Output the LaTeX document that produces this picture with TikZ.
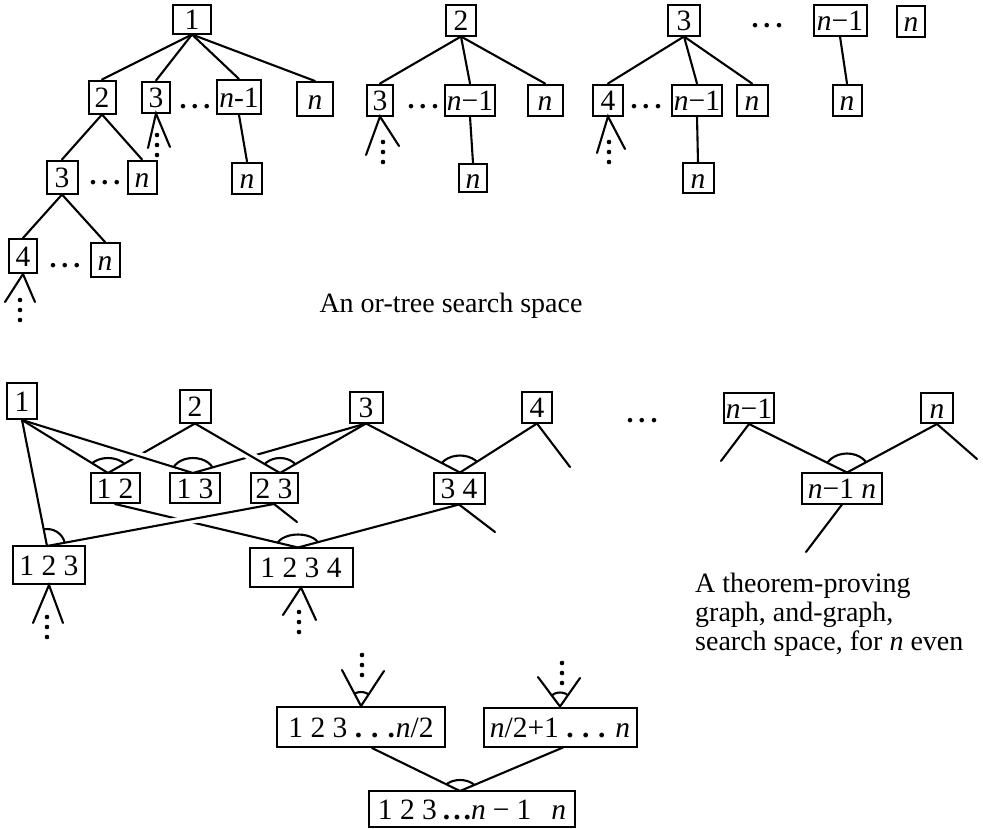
\documentclass[tikz,border=0pt]{standalone}
\usepackage{fontspec}
\setmainfont{Liberation Serif}
\newcommand\andarc[5]{\begin{scope}\clip (#1) -- (#2) -- (#3) -- cycle; \draw[edge] (#1) ellipse [x radius=#4, y radius=#5];\end{scope}}
\newcommand\vdts[3]{\foreach \k in {0,1,2}{\fill (#1,{#2+#3*\k}) circle[radius=2.3];}}
\newcommand\mydots[1]{{\bfseries.\kern#1.\kern#1.}}
\begin{document}
\begin{tikzpicture}[x=1pt,y=-1pt,
  font=\fontsize{28}{29}\selectfont,
  edge/.style={line width=2.1pt, line cap=round},
  bx/.style={draw, line width=2pt, inner xsep=2pt, inner ysep=0pt, minimum height=31pt, text height=20pt, text depth=0pt, minimum width=#1, font=\fontsize{29.5}{31}\selectfont},
  bx/.default=30pt,
  txt/.style={inner sep=0pt, anchor=base},
  halo/.style={draw=white, line width=9pt},
]
\useasboundingbox (0,0) rectangle (983,828);

% ---------------- or-tree ----------------
\node[bx=38pt, minimum height=29pt] (t1) at (192,19) {1};
\node[bx] (t2) at (461,20) {2};
\node[bx=32pt] (t3) at (684,20) {3};
\node[txt] (tdots) at (767,27) {\mydots{5pt}};
\node[bx=53pt] (tn1) at (840,20) {\textit{n}−1};
\node[bx=28pt] (tn) at (911,21) {\textit{n}};

\node[bx=27pt, minimum height=33pt] (a2) at (102,97) {2};
\node[bx=28pt] (a3) at (156,97) {3};
\node[txt] (adots) at (195,108) {\mydots{5pt}};
\node[bx=40pt, minimum height=34pt] (an1) at (239,97) {\textit{n}-1};
\node[bx=36pt, minimum height=34pt] (an) at (315,99) {\textit{n}};
\node[bx=31pt, minimum height=33pt] (a23) at (62,177) {3};
\node[txt] (adots2) at (105,184) {\mydots{5pt}};
\node[bx=29pt, minimum height=33pt] (a2n) at (142,177) {\textit{n}};
\node[bx=30pt] (an1n) at (247,178) {\textit{n}};
\node[bx=28pt, minimum height=34pt] (a234) at (23,256) {4};
\node[txt] (adots3) at (65,267) {\mydots{5pt}};
\node[bx=29pt, minimum height=34pt] (a23n) at (105,260) {\textit{n}};

\node[bx=26pt] (c3) at (380,100) {3};
\node[txt] (cdots) at (423,108) {\mydots{5pt}};
\node[bx=44pt] (cn1) at (470,100) {\textit{n}−1};
\node[bx=35pt] (cn) at (545,100) {\textit{n}};
\node[bx=28pt, minimum height=28pt] (cn1n) at (473,178) {\textit{n}};

\node[bx=30pt] (d4) at (608,100) {4};
\node[txt] (ddots) at (646,108) {\mydots{5pt}};
\node[bx=50pt] (dn1) at (697,100) {\textit{n}−1};
\node[bx=31pt] (dn) at (752,100) {\textit{n}};
\node[bx=31pt, minimum height=30pt] (dn1n) at (698,178) {\textit{n}};

\node[bx=29pt] (en) at (847,100) {\textit{n}};

\foreach \p/\c in {t1/a2,t1/a3,t1/an1,t1/an,a2/a23,a2/a2n,an1/an1n,a23/a234,a23/a23n,
                   t2/c3,t2/cn1,t2/cn,cn1/cn1n,t3/d4,t3/dn1,t3/dn,dn1/dn1n,tn1/en}
  \draw[edge] (\p.south) -- (\c.north);

% fans (or-tree)
\coordinate (f1l) at (148,148); \coordinate (f1r) at (170,147);
\draw[edge] (f1l) -- (a3.south) -- (f1r); \vdts{157}{135}{10}
\coordinate (f2l) at (366,155); \coordinate (f2r) at (399,146);
\draw[edge] (f2l) -- (c3.south) -- (f2r); \vdts{383}{142}{10}
\coordinate (f3l) at (597,153); \coordinate (f3r) at (625,149);
\draw[edge] (f3l) -- (d4.south) -- (f3r); \vdts{609}{142}{10}
\coordinate (f4l) at (5,302); \coordinate (f4r) at (35,302);
\draw[edge] (f4l) -- (a234.south) -- (f4r); \vdts{20}{300}{10}

\node[txt] (cap1) at (451,312) {An or-tree search space};

% ---------------- and-graph ----------------
\node[bx=30pt, minimum height=36pt] (b1) at (22,401) {1};
\node[bx=31pt, minimum height=33pt] (b2) at (195,406) {2};
\node[bx=33pt] (b3) at (366,407) {3};
\node[bx=30pt] (b4) at (537,407) {4};
\node[txt] (bdots) at (642,422) {\mydots{5pt}};
\node[bx=47pt, minimum height=30pt] (bn1) at (749,408) {\textit{n}−1};
\node[bx=32pt, minimum height=30pt] (bn) at (937,408) {\textit{n}};
\node[bx=49pt, minimum height=30pt] (b12) at (115,488) {1 2};
\node[bx=50pt, minimum height=30pt] (b13) at (195,488) {1 3};
\node[bx=47pt, minimum height=30pt] (b23) at (274,488) {2 3};
\node[bx=51pt] (b34) at (459,488) {3 4};
\node[bx=80pt] (bnn) at (842,488) {\textit{n}−1 \textit{n}};
\node[bx=72pt, minimum height=38pt] (b123) at (49,565) {1 2 3};
\node[bx=103pt, minimum height=39pt] (b1234) at (301,567) {1 2 3 4};
\node[bx=168pt, minimum height=40pt] (bL) at (361,727) {1 2 3 \mydots{9pt}\kern1pt\textit{n}/2};
\node[bx=153pt, minimum height=39pt] (bR) at (560,727) {\textit{n}/2+1 \mydots{8.5pt}\hspace{10pt}\textit{n}};
\node[bx=206pt, minimum height=36pt] (bF) at (472,809) {1 2 3\kern6pt\mydots{3pt}\textit{n}\kern7pt−\kern7pt1\hspace{20pt}\textit{n}};

\coordinate (c12) at (108,473);
\coordinate (c13) at (193,473);
\coordinate (c23) at (280,473);
\coordinate (c34) at (460,472.5);
\coordinate (cnn) at (847,472.5);
\coordinate (c123) at (47,546);
\coordinate (c1234) at (298,547.5);
\coordinate (cF) at (460,791);
\coordinate (g23) at (297,522);
\coordinate (g34) at (495,532);
\coordinate (g4) at (570,467);
\coordinate (gn1) at (721,461);
\coordinate (gn) at (977,459);
\coordinate (gnn) at (806,552);
\coordinate (pL) at ([xshift=11pt]bL.south);
\coordinate (pR) at ([xshift=3pt]bR.south);

% under lines
\draw[edge] (b1.south) -- (c12);
\draw[edge] (b2.south) -- (c12);
\draw[edge] (b3.south) -- (c13);
\draw[edge] (b3.south) -- (c23);
\draw[edge] (b3.south) -- (c34);
\draw[edge] (b4.south) -- (c34);
\draw[edge] (b4.south) -- (g4);
\draw[edge] (b1.south) -- (c123);
\draw[edge] (b12.south) -- (c1234);
\draw[edge] (b34.south) -- (c1234);
\draw[edge] (b23.south) -- (g23);
\draw[edge] (b34.south) -- (g34);
\draw[edge] (bn1.south) -- (cnn);
\draw[edge] (bn.south) -- (cnn);
\draw[edge] (bn1.south) -- (gn1);
\draw[edge] (bn.south) -- (gn);
\draw[edge] (bnn.south) -- (gnn);
\draw[edge] (pL) -- (cF);
\draw[edge] (pR) -- (cF);

% over lines with gaps
\draw[halo, shorten <=45pt, shorten >=25pt] (b1.south) -- (c13);
\draw[edge] (b1.south) -- (c13);
\draw[halo, shorten <=15pt, shorten >=18pt] (b2.south) -- (c23);
\draw[edge] (b2.south) -- (c23);
\draw[halo, shorten <=25pt, shorten >=30pt] (b23.south) -- (c123);
\draw[edge] (b23.south) -- (c123);

% and-arcs
\andarc{c12}{b1.south}{b2.south}{21}{15}
\andarc{c13}{b1.south}{b3.south}{21}{15}
\andarc{c23}{b2.south}{b3.south}{19}{15}
\andarc{c34}{b3.south}{b4.south}{22}{17}
\andarc{cnn}{bn1.south}{bn.south}{23}{19}
\andarc{c123}{b1.south}{b23.south}{18}{17}
\andarc{c1234}{b12.south}{b34.south}{22}{13}
\andarc{cF}{pL}{pR}{17}{11}

% fans (and-graph)
\coordinate (h1l) at (33,623); \coordinate (h1r) at (63,623);
\draw[edge] (h1l) -- (b123.south) -- (h1r); \vdts{47}{617}{10}
\coordinate (h2l) at (283,615); \coordinate (h2r) at (316,620);
\draw[edge] (h2l) -- (b1234.south) -- (h2r); \vdts{299}{612}{10}

\coordinate (vL1) at (342,670); \coordinate (vL2) at (384,671);
\draw[edge] (vL1) -- (bL.north) -- (vL2); \vdts{362}{655}{10}
\andarc{bL.north}{vL1}{vL2}{14}{14}
\coordinate (vR1) at (538,677); \coordinate (vR2) at (580,678);
\draw[edge] (vR1) -- (bR.north) -- (vR2); \vdts{562}{663}{10}
\andarc{bR.north}{vR1}{vR2}{14}{14}

\node[txt, anchor=base west] (cap2) at (695,592) {A theorem-proving};
\node[txt, anchor=base west] (cap3) at (695,621) {graph, and-graph,};
\node[txt, anchor=base west] (cap4) at (695,650) {search space, for \textit{n} even};
\end{tikzpicture}
\end{document}
